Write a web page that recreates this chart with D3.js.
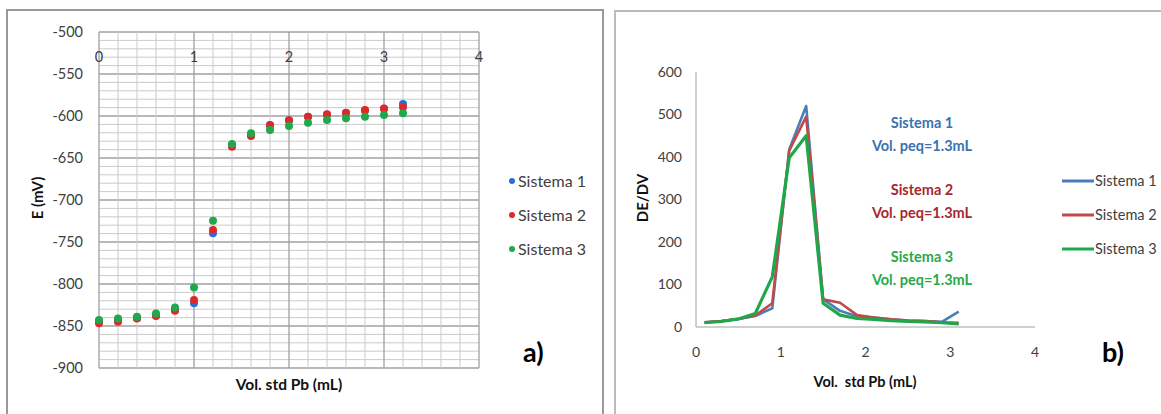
<!DOCTYPE html>
<html>
<head>
<meta charset="utf-8">
<script src="https://cdn.jsdelivr.net/npm/d3@7"></script>
<style>
  body { margin: 0; background: #fff; }
  svg { display: block; font-family: Lato, "Open Sans", sans-serif; }
</style>
</head>
<body>
<svg width="1161" height="414"></svg>
<script>
// a) potencial vs volumen
const volA = [0, 0.2, 0.4, 0.6, 0.8, 1.0, 1.2, 1.4, 1.6, 1.8, 2.0, 2.2, 2.4, 2.6, 2.8, 3.0, 3.2];
const sis1A = [-845, -843.5, -840.5, -837.5, -831, -823, -739.7, -635.5, -623, -611, -605.5, -601, -598.5, -596.5, -593.5, -591.5, -585.7];
const sis2A = [-846.8, -844.8, -841, -838, -831.7, -819, -735.7, -636.5, -623.8, -610.7, -605, -600.8, -598, -596, -593, -591, -589.7];
const sis3A = [-843, -841, -839, -835, -828, -804.3, -724.6, -633.3, -620.6, -616.7, -612, -608, -604.8, -602.8, -600.8, -598.8, -596.8];
const ticksAy = [-500, -550, -600, -650, -700, -750, -800, -850, -900];
const ticksAx = [0, 1, 2, 3, 4];

// b) primera derivada
const volB = [0.1, 0.3, 0.5, 0.7, 0.9, 1.1, 1.3, 1.5, 1.7, 1.9, 2.1, 2.3, 2.5, 2.7, 2.9, 3.1];
const sis1B = [11, 14, 19, 26, 44, 418, 520, 65, 38, 25, 22, 18, 15, 14, 12, 36];
const sis2B = [11, 14, 19, 27, 56, 415, 495, 65, 57, 28, 22, 18, 15, 14, 11, 10];
const sis3B = [10, 13, 19, 32, 118, 398, 450, 56, 28, 20, 18, 15, 13, 12, 10, 7];
const ticksBy = [0, 100, 200, 300, 400, 500, 600];
const ticksBx = [0, 1, 2, 3, 4];

const nombres = ['Sistema 1', 'Sistema 2', 'Sistema 3'];
const notas = ['Vol. peq=1.3mL', 'Vol. peq=1.3mL', 'Vol. peq=1.3mL'];

const coloresA = ['#2a6fd4', '#e02828', '#1fa84c'];
const coloresB = ['#4a7ebb', '#be4b48', '#1ea84a'];
const coloresNota = ['#3a72b0', '#a8282c', '#2aa84a'];

const svg = d3.select('svg');
const txt = '#404040';

// marcos
svg.append('rect').attr('x', 7).attr('y', 10).attr('width', 596).attr('height', 420)
    .attr('fill', 'none').attr('stroke', '#999').attr('stroke-width', 2);
svg.append('rect').attr('x', 615).attr('y', 11).attr('width', 560).attr('height', 420)
    .attr('fill', 'none').attr('stroke', '#bbb').attr('stroke-width', 2);

// ---------- a) ----------
const xA = d3.scaleLinear().domain([0, 4]).range([99, 479]);
const yA = d3.scaleLinear().domain([-900, -500]).range([368, 32]);
const gA = svg.append('g');

d3.range(-900, -499, 10).forEach(v => {
    gA.append('line')
        .attr('x1', xA(0)).attr('x2', xA(4))
        .attr('y1', yA(v)).attr('y2', yA(v))
        .attr('stroke', v % 50 === 0 ? '#a0a0a0' : '#cbcbcb')
        .attr('stroke-width', v % 50 === 0 ? 1.3 : 1);
});
d3.range(0, 21).forEach(i => {
    const v = i / 5;
    gA.append('line')
        .attr('x1', xA(v)).attr('x2', xA(v))
        .attr('y1', yA(-500)).attr('y2', yA(-900))
        .attr('stroke', i % 5 === 0 ? '#a0a0a0' : '#cbcbcb')
        .attr('stroke-width', i % 5 === 0 ? 1.3 : 1);
});

gA.selectAll('text.ty').data(ticksAy).join('text')
    .attr('x', 83).attr('y', d => yA(d)).attr('dy', '0.35em')
    .attr('text-anchor', 'end').attr('font-size', 14.5).attr('fill', txt)
    .text(d => d);
gA.selectAll('text.tx').data(ticksAx).join('text')
    .attr('x', d => xA(d)).attr('y', 57).attr('dy', '0.35em')
    .attr('text-anchor', 'middle').attr('font-size', 14.5).attr('fill', txt)
    .text(d => d);

[sis1A, sis2A, sis3A].forEach((serie, k) => {
    gA.append('g').selectAll('circle').data(serie).join('circle')
        .attr('cx', (d, i) => xA(volA[i]))
        .attr('cy', d => yA(d))
        .attr('r', 4)
        .attr('fill', coloresA[k]);
});

gA.append('text').attr('transform', 'translate(38,198) rotate(-90)')
    .attr('text-anchor', 'middle').attr('dy', '0.35em')
    .attr('font-size', 15).attr('font-weight', 'bold').attr('fill', '#111')
    .text('E (mV)');
gA.append('text').attr('x', 289).attr('y', 385).attr('dy', '0.35em')
    .attr('text-anchor', 'middle').attr('font-size', 15.5).attr('font-weight', 'bold').attr('fill', '#111')
    .text('Vol. std Pb (mL)');

nombres.forEach((n, k) => {
    const yy = 181 + k * 34;
    gA.append('circle').attr('cx', 512).attr('cy', yy).attr('r', 3).attr('fill', coloresA[k]);
    gA.append('text').attr('x', 518).attr('y', yy).attr('dy', '0.35em')
        .attr('font-size', 16).attr('fill', txt).text(n);
});
gA.append('text').attr('x', 523).attr('y', 353).attr('dy', '0.35em')
    .attr('font-size', 27).attr('font-weight', 'bold').attr('fill', '#000').text('a)');

// ---------- b) ----------
const xB = d3.scaleLinear().domain([0, 4]).range([696, 1035]);
const yB = d3.scaleLinear().domain([0, 600]).range([327, 72]);
const gB = svg.append('g');

gB.append('line').attr('x1', xB(0)).attr('x2', xB(0)).attr('y1', yB(600)).attr('y2', yB(0))
    .attr('stroke', '#bfbfbf').attr('stroke-width', 1.5);
gB.append('line').attr('x1', xB(0)).attr('x2', xB(4)).attr('y1', yB(0)).attr('y2', yB(0))
    .attr('stroke', '#bfbfbf').attr('stroke-width', 1.5);

gB.selectAll('text.ty').data(ticksBy).join('text')
    .attr('x', 682).attr('y', d => yB(d)).attr('dy', '0.35em')
    .attr('text-anchor', 'end').attr('font-size', 14).attr('fill', txt)
    .text(d => d);
gB.selectAll('text.tx').data(ticksBx).join('text')
    .attr('x', d => xB(d)).attr('y', 352).attr('dy', '0.35em')
    .attr('text-anchor', 'middle').attr('font-size', 14).attr('fill', txt)
    .text(d => d);

const linea = d3.line().x((d, i) => xB(volB[i])).y(d => yB(d));
[sis1B, sis2B, sis3B].forEach((serie, k) => {
    gB.append('path').datum(serie)
        .attr('d', linea)
        .attr('fill', 'none')
        .attr('stroke', coloresB[k])
        .attr('stroke-width', k === 2 ? 3.2 : 2.6)
        .attr('stroke-linejoin', 'round');
});

gB.append('text').attr('transform', 'translate(643,198) rotate(-90)')
    .attr('text-anchor', 'middle').attr('dy', '0.35em')
    .attr('font-size', 15).attr('font-weight', 'bold').attr('fill', '#111')
    .text('DE/DV');
gB.append('text').attr('x', 865).attr('y', 382).attr('dy', '0.35em')
    .attr('text-anchor', 'middle').attr('font-size', 14.5).attr('font-weight', 'bold').attr('fill', '#111')
    .text('Vol.  std Pb (mL)').style('white-space', 'pre');

nombres.forEach((n, k) => {
    const yy = 123 + k * 67;
    gB.append('text').attr('x', 922).attr('y', yy).attr('dy', '0.35em')
        .attr('text-anchor', 'middle').attr('font-size', 14.5).attr('font-weight', 'bold')
        .attr('fill', coloresNota[k]).text(n);
    gB.append('text').attr('x', 922).attr('y', yy + 23).attr('dy', '0.35em')
        .attr('text-anchor', 'middle').attr('font-size', 14.5).attr('font-weight', 'bold')
        .attr('fill', coloresNota[k]).text(notas[k]);
});

nombres.forEach((n, k) => {
    const yy = 181 + k * 34;
    gB.append('line').attr('x1', 1062).attr('x2', 1094).attr('y1', yy).attr('y2', yy)
        .attr('stroke', coloresB[k]).attr('stroke-width', 3);
    gB.append('text').attr('x', 1095).attr('y', yy).attr('dy', '0.35em')
        .attr('font-size', 14.5).attr('fill', txt).text(n);
});
gB.append('text').attr('x', 1102).attr('y', 353).attr('dy', '0.35em')
    .attr('font-size', 27).attr('font-weight', 'bold').attr('fill', '#000').text('b)');
</script>
</body>
</html>
